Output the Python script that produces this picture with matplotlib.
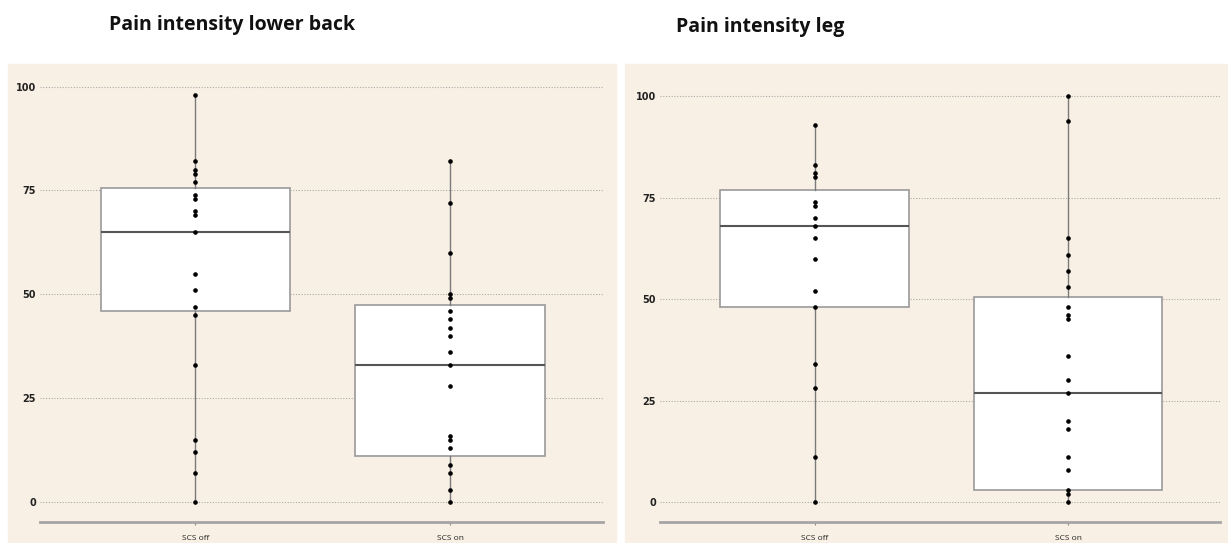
import numpy as np
import matplotlib
matplotlib.use('Agg')
import matplotlib.pyplot as plt
from matplotlib.patches import Rectangle

# data (0-100 pain scale)
groups = ["SCS off", "SCS on"]
titles = ["Pain intensity lower back", "Pain intensity leg"]

back_off = [98, 82, 80, 79, 77, 74, 73, 70, 69, 65, 55, 51, 47, 45, 33, 15, 12, 7, 0]
back_on = [82, 72, 60, 50, 49, 46, 44, 42, 40, 36, 33, 28, 16, 15, 13, 9, 7, 3, 0]
leg_off = [93, 83, 81, 80, 74, 73, 70, 68, 65, 60, 52, 48, 34, 28, 11, 0]
leg_on = [100, 94, 65, 61, 57, 53, 48, 46, 45, 36, 30, 27, 20, 18, 11, 8, 3, 2, 0]

# box quartiles as drawn in the figure
back_q1 = [46, 11]
back_med = [65, 33]
back_q3 = [75.5, 47.5]
leg_q1 = [48, 3]
leg_med = [68, 27]
leg_q3 = [77, 50.5]

yticks = [0, 25, 50, 75, 100]

W, H = 1228, 543
fig = plt.figure(figsize=(W / 100, H / 100), dpi=100)
bg = '#f8f0e4'

# panel backgrounds
for x0, x1 in [(8, 616), (625, 1228)]:
    fig.patches.append(Rectangle((x0 / W, 0), (x1 - x0) / W, 1 - 64 / H,
                                 transform=fig.transFigure, color=bg, zorder=-5))

panels = [
    dict(rect=[40 / W, 1 - 522 / H, 563 / W, (522 - 67) / H], series=[back_off, back_on],
         q1=back_q1, med=back_med, q3=back_q3, ylim=(-4.8, 104.7), title_xy=(232, 25)),
    dict(rect=[660 / W, 1 - 522 / H, 560 / W, (522 - 76) / H], series=[leg_off, leg_on],
         q1=leg_q1, med=leg_med, q3=leg_q3, ylim=(-4.9, 105), title_xy=(760, 27)),
]

for p, title in zip(panels, titles):
    ax = fig.add_axes(p['rect'])
    ax.set_facecolor('none')
    ax.set_zorder(2)
    stats = []
    for vals, q1, med, q3, name in zip(p['series'], p['q1'], p['med'], p['q3'], groups):
        stats.append(dict(label=name, q1=q1, med=med, q3=q3,
                          whislo=min(vals), whishi=max(vals), fliers=[]))
    ax.bxp(stats, positions=[1, 2], widths=0.745, showfliers=False, showcaps=False,
           patch_artist=True,
           boxprops=dict(facecolor='white', edgecolor='#9a9a9a', linewidth=1.2),
           medianprops=dict(color='#555555', linewidth=1.5),
           whiskerprops=dict(color='#7a7a7a', linewidth=1.0))
    for pos, vals in zip([1, 2], p['series']):
        ax.plot(np.full(len(vals), pos), vals, 'o', color='black', markersize=2.3, zorder=5)

    ax.set_xlim(0.39, 2.6)
    ax.set_ylim(*p['ylim'])
    ax.set_yticks(yticks)
    ax.set_yticklabels([str(t) for t in yticks], fontsize=7, fontweight='bold',
                       family=['Liberation Sans Narrow', 'DejaVu Sans'], color='#222222')
    ax.set_xticks([1, 2])
    ax.set_xticklabels(groups, fontsize=6, family='Open Sans', color='#222222')
    ax.yaxis.grid(True, linestyle=(0, (1, 1.5)), color='#aaaaaa', linewidth=0.8)
    ax.set_axisbelow(True)
    for s in ['top', 'right', 'left']:
        ax.spines[s].set_visible(False)
    ax.spines['bottom'].set_color('#a5a5a5')
    ax.spines['bottom'].set_linewidth(2)
    ax.tick_params(axis='y', length=0, pad=3)
    ax.tick_params(axis='x', length=2, width=0.8, color='#888888', pad=7)

    tx, ty = p['title_xy']
    fig.text(tx / W, 1 - ty / H, title, ha='center', va='center', fontsize=14,
             fontweight='bold', family='Open Sans', color='#111111')

fig.savefig('out.png', dpi=100)
